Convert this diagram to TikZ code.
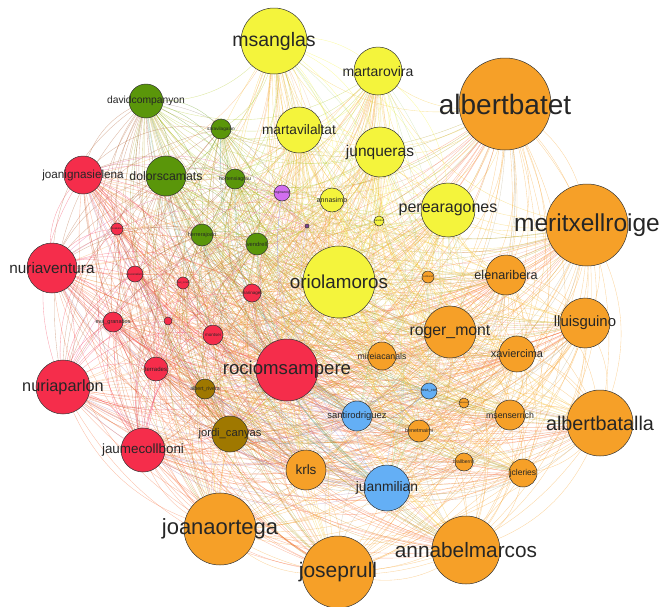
\documentclass[tikz,border=0pt]{standalone}
\usepackage{fontspec}
\setmainfont{Liberation Sans}
\usepackage{tikz}
\usepackage{xcolor}
\usetikzlibrary{backgrounds}

\definecolor{erc}{RGB}{244,244,60}
\definecolor{ciu}{RGB}{246,160,40}
\definecolor{psc}{RGB}{245,45,75}
\definecolor{icv}{RGB}{90,150,10}
\definecolor{pp}{RGB}{100,175,245}
\definecolor{cs}{RGB}{159,120,0}
\definecolor{cup}{RGB}{210,110,240}
\newcommand{\lbl}[1]{\fontsize{#1}{#1}\selectfont}

\tikzset{
	pol/.style={circle, draw=black!80, line width=0.5pt, inner sep=0pt, minimum size=#1pt},
	edge/.style={line width=0.35pt, draw opacity=0.45}
}

% name/colour/radius, for the edges
\def\people{albertbatet/ciu/46, meritxellroige/ciu/41, elenaribera/ciu/20, ciudot/ciu/6,
	roger_mont/ciu/26, lluisguino/ciu/25, xaviercima/ciu/18, mireiacanals/ciu/14, ciudotb/ciu/5,
	msenserrich/ciu/15, benetmaimi/ciu/11, albertbatalla/ciu/33, lvallberris/ciu/9, jcleries/ciu/14,
	krls/ciu/20, annabelmarcos/ciu/34, joseprull/ciu/36, joanaortega/ciu/36,
	msanglas/erc/33, martarovira/erc/24, martavilaltat/erc/23, junqueras/erc/25, annasimo/erc/12,
	perearagones/erc/27, oriolamoros/erc/36, ercdot/erc/5,
	juanmilian/pp/23, santirodriguez/pp/15, ppdot/pp/8,
	jordi_canyas/cs/18, albert_rivera/cs/10,
	rociomsampere/psc/31, nuriaventura/psc/25, nuriaparlon/psc/27, joanignasielena/psc/19,
	jaumecollboni/psc/22, terrades/psc/12, eva_granados/psc/10, montsei/psc/10, pscdota/psc/6,
	pscdotb/psc/8, pscdotc/psc/6, marinageli/psc/9, pscdotd/psc/4,
	davidcompanyon/icv/17, saravilagalan/icv/10, dolorscamats/icv/20, hortensiagrau/icv/10,
	herrerajoan/icv/11, vendrell/icv/11, reginaroig/cup/8, cupdot/cup/2}

\begin{document}
\begin{tikzpicture}[x=1pt, y=-1pt, every label/.style={text=black!85}]
			\useasboundingbox (0,0) rectangle (662,606);
			% ciu
			\node[pol=92, fill=ciu, label={[font=\lbl{28}]center:albertbatet}] (albertbatet) at (505,104) {};
			\node[pol=82, fill=ciu, label={[font=\lbl{24.5}]center:meritxellroige}] (meritxellroige) at (587,225) {};
			\node[pol=40, fill=ciu, label={[font=\lbl{12.6}]center:elenaribera}] (elenaribera) at (506,275) {};
			\node[pol=12, fill=ciu, label={[font=\lbl{2.5}]center:jorditurull}] (ciudot) at (428,277) {};
			\node[pol=52, fill=ciu, label={[font=\lbl{15.8}]center:roger\_mont}] (roger_mont) at (450,332) {};
			\node[pol=50, fill=ciu, label={[font=\lbl{14.9}]center:lluisguino}] (lluisguino) at (585,323) {};
			\node[pol=36, fill=ciu, label={[font=\lbl{10.9}]center:xaviercima}] (xaviercima) at (517,354) {};
			\node[pol=28, fill=ciu, label={[font=\lbl{8.7}]center:mireiacanals}] (mireiacanals) at (382,356) {};
			\node[pol=10, fill=ciu, label={[font=\lbl{2.2}]center:ramonesp}] (ciudotb) at (464,403) {};
			\node[pol=30, fill=ciu, label={[font=\lbl{8.8}]center:msenserrich}] (msenserrich) at (510,415) {};
			\node[pol=22, fill=ciu, label={[font=\lbl{5.4}]center:benetmaimi}] (benetmaimi) at (419,431) {};
			\node[pol=66, fill=ciu, label={[font=\lbl{19.8}]center:albertbatalla}] (albertbatalla) at (600,423) {};
			\node[pol=18, fill=ciu, label={[font=\lbl{5}]center:lvallberris}] (lvallberris) at (464,462) {};
			\node[pol=28, fill=ciu, label={[font=\lbl{8.5}]center:jcleries}] (jcleries) at (523,473) {};
			\node[pol=40, fill=ciu, label={[font=\lbl{13.5}]center:krls}] (krls) at (306,470) {};
			\node[pol=68, fill=ciu, label={[font=\lbl{20.8}]center:annabelmarcos}] (annabelmarcos) at (466,550) {};
			\node[pol=72, fill=ciu, label={[font=\lbl{21}]center:joseprull}] (joseprull) at (338,572) {};
			\node[pol=72, fill=ciu, label={[font=\lbl{22}]center:joanaortega}] (joanaortega) at (220,529) {};
			% erc
			\node[pol=66, fill=erc, label={[font=\lbl{19.5}]center:msanglas}] (msanglas) at (274,41) {};
			\node[pol=48, fill=erc, label={[font=\lbl{14}]center:martarovira}] (martarovira) at (378,71) {};
			\node[pol=46, fill=erc, label={[font=\lbl{13.7}]center:martavilaltat}] (martavilaltat) at (299,130) {};
			\node[pol=50, fill=erc, label={[font=\lbl{15.5}]center:junqueras}] (junqueras) at (380,152) {};
			\node[pol=24, fill=erc, label={[font=\lbl{7}]center:annasimo}] (annasimo) at (332,200) {};
			\node[pol=54, fill=erc, label={[font=\lbl{16}]center:perearagones}] (perearagones) at (448,210) {};
			\node[pol=72, fill=erc, label={[font=\lbl{18.8}]center:oriolamoros}] (oriolamoros) at (339,282) {};
			\node[pol=10, fill=erc, label={[font=\lbl{2.5}]center:joanridao}] (ercdot) at (379,221) {};
			% pp
			\node[pol=46, fill=pp, label={[font=\lbl{13.8}]center:juanmilian}] (juanmilian) at (387,488) {};
			\node[pol=30, fill=pp, label={[font=\lbl{9.4}]center:santirodriguez}] (santirodriguez) at (357,416) {};
			\node[pol=16, fill=pp, label={[font=\lbl{4}]center:rosa\_cos}] (ppdot) at (429,391) {};
			% cs
			\node[pol=36, fill=cs, label={[font=\lbl{11.2}]center:jordi\_canyas}] (jordi_canyas) at (230,434) {};
			\node[pol=20, fill=cs, label={[font=\lbl{5.3}]center:albert\_rivera}] (albert_rivera) at (205,389) {};
			% psc
			\node[pol=62, fill=psc, label={[font=\lbl{18.6}]center:rociomsampere}] (rociomsampere) at (287,370) {};
			\node[pol=50, fill=psc, label={[font=\lbl{15.3}]center:nuriaventura}] (nuriaventura) at (52,268) {};
			\node[pol=54, fill=psc, label={[font=\lbl{16.3}]center:nuriaparlon}] (nuriaparlon) at (63,387) {};
			\node[pol=38, fill=psc, label={[font=\lbl{11.7}]center:joanignasielena}] (joanignasielena) at (83,175) {};
			\node[pol=44, fill=psc, label={[font=\lbl{13.4}]center:jaumecollboni}] (jaumecollboni) at (143,450) {};
			\node[pol=24, fill=psc, label={[font=\lbl{6}]center:terrades}] (terrades) at (156,369) {};
			\node[pol=20, fill=psc, label={[font=\lbl{5.5}]center:eva\_granados}] (eva_granados) at (113,322) {};
			\node[pol=20, fill=psc, label={[font=\lbl{4.5}]center:montsei}] (montsei) at (213,335) {};
			\node[pol=12, fill=psc, label={[font=\lbl{2.5}]center:mtcaballero}] (pscdota) at (117,229) {};
			\node[pol=16, fill=psc, label={[font=\lbl{3}]center:azucenafarre}] (pscdotb) at (135,274) {};
			\node[pol=12, fill=psc, label={[font=\lbl{2.5}]center:dani\_ronda}] (pscdotc) at (183,283) {};
			\node[pol=18, fill=psc, label={[font=\lbl{4.5}]center:marinageli}] (marinageli) at (252,293) {};
			\node[pol=8, fill=psc] (pscdotd) at (168,321) {};
			% icv
			\node[pol=34, fill=icv, label={[font=\lbl{10.3}]center:davidcompanyon}] (davidcompanyon) at (146,101) {};
			\node[pol=20, fill=icv, label={[font=\lbl{4.7}]center:saravilagalan}] (saravilagalan) at (221,129) {};
			\node[pol=40, fill=icv, label={[font=\lbl{12.3}]center:dolorscamats}] (dolorscamats) at (166,176) {};
			\node[pol=20, fill=icv, label={[font=\lbl{5.2}]center:hortensiagrau}] (hortensiagrau) at (235,179) {};
			\node[pol=22, fill=icv, label={[font=\lbl{5.5}]center:herrerajoan}] (herrerajoan) at (202,235) {};
			\node[pol=22, fill=icv, label={[font=\lbl{5.8}]center:vendrell}] (vendrell) at (257,244) {};
			% cup
			\node[pol=16, fill=cup, label={[font=\lbl{3.5}]center:reginaroig}] (reginaroig) at (282,193) {};
			\node[pol=4, fill=cup!60!black] (cupdot) at (307,226) {};
			% edges, behind the nodes
			\begin{pgfonlayer}{background}
				\foreach \a/\ca/\ra [count=\i] in \people {
					\foreach \b/\cb/\rb [count=\j] in \people {
						\ifnum\j>\i
							\ifnum\numexpr\ra+\rb\relax>20
								\draw[edge, draw=\ca!55!\cb] (\a.center) to[bend left=28] (\b.center);
							\fi
						\fi
					}
				}
			\end{pgfonlayer}
		\end{tikzpicture}
\end{document}
